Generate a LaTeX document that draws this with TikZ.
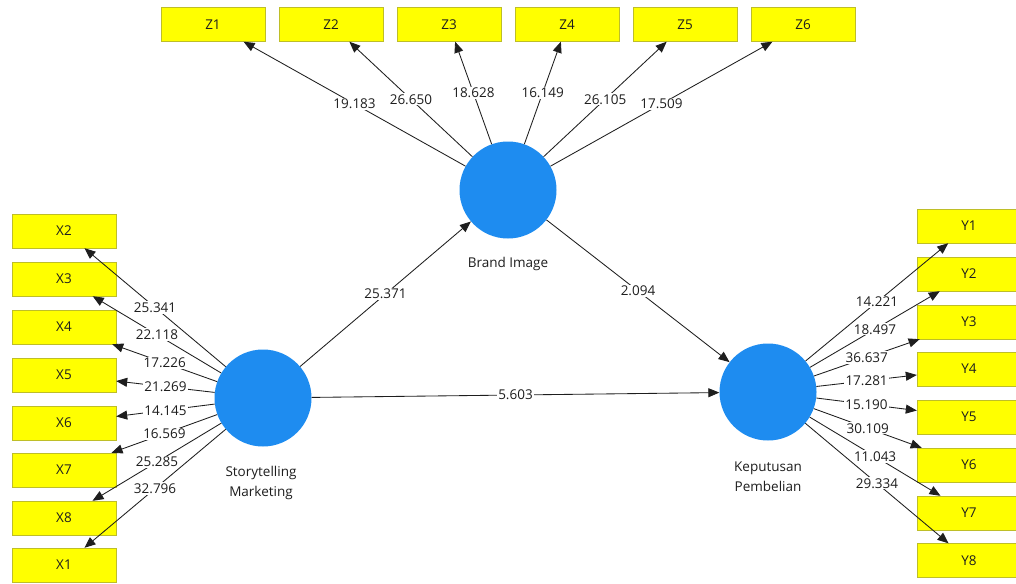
\documentclass[tikz,border=0pt]{standalone}
\usepackage{fontspec}
\setmainfont{Open Sans}
\usetikzlibrary{arrows.meta}
\definecolor{boxfill}{RGB}{255,255,0}
\definecolor{boxedge}{RGB}{190,190,40}
\definecolor{lvblue}{RGB}{30,140,240}
\definecolor{linec}{RGB}{30,30,30}
\definecolor{txt}{RGB}{30,30,30}
\begin{document}
\begin{tikzpicture}[x=1pt,y=-1pt,
  ind/.style={draw=boxedge,fill=boxfill,minimum width=104pt,minimum height=34pt,inner sep=0pt,font=\fontsize{13.5}{15}\selectfont,text=txt},
  lv/.style={circle,fill=lvblue,minimum size=97pt,inner sep=0pt},
  conn/.style={draw=linec,line width=0.85pt,-{Triangle[length=11pt,width=9pt]}},
  val/.style={fill=white,inner sep=1.2pt,font=\fontsize{13.5}{15}\selectfont,text=txt},
  lvlab/.style={align=center,font=\fontsize{13.5}{20}\selectfont,text=txt}]
\useasboundingbox (0,0) rectangle (1016,583);
\fill[white] (0,0) rectangle (1016,583);
% latent variables
\node[lv] (SM) at (263,398) {};
\node[lv] (BI) at (508,190) {};
\node[lv] (KP) at (768,392) {};
\node[lvlab] (SMl) at (261,483) {Storytelling\\Marketing};
\node[lvlab] (BIl) at (508,264) {Brand Image};
\node[lvlab] (KPl) at (768,477) {Keputusan\\Pembelian};
% Z indicators
\node[ind] (Z1) at (213,24.5) {Z1};
\node[ind] (Z2) at (331,24.5) {Z2};
\node[ind] (Z3) at (449,24.5) {Z3};
\node[ind] (Z4) at (567,24.5) {Z4};
\node[ind] (Z5) at (685,24.5) {Z5};
\node[ind] (Z6) at (803,24.5) {Z6};
% X indicators
\node[ind] (X2) at (64,231) {X2};
\node[ind] (X3) at (64,279) {X3};
\node[ind] (X4) at (64,327) {X4};
\node[ind] (X5) at (64,375) {X5};
\node[ind] (X6) at (64,423) {X6};
\node[ind] (X7) at (64,470) {X7};
\node[ind] (X8) at (64,518) {X8};
\node[ind] (X1) at (64,565) {X1};
% Y indicators
\node[ind] (Y1) at (969,226) {Y1};
\node[ind] (Y2) at (969,274) {Y2};
\node[ind] (Y3) at (969,322) {Y3};
\node[ind] (Y4) at (969,369) {Y4};
\node[ind] (Y5) at (969,417) {Y5};
\node[ind] (Y6) at (969,465) {Y6};
\node[ind] (Y7) at (969,513) {Y7};
\node[ind] (Y8) at (969,560.5) {Y8};
% structural paths
\draw[conn] (SM) -- node[val,pos=0.5] {25.371} (BI);
\draw[conn] (BI) -- node[val,pos=0.5] {2.094} (KP);
\draw[conn] (SM) -- node[val,pos=0.5] {5.603} (KP);
% Z loadings
\draw[conn] (BI) -- node[val,pos=0.5] {19.183} (Z1);
\draw[conn] (BI) -- node[val,pos=0.5] {26.650} (Z2);
\draw[conn] (BI) -- node[val,pos=0.5] {18.628} (Z3);
\draw[conn] (BI) -- node[val,pos=0.5] {16.149} (Z4);
\draw[conn] (BI) -- node[val,pos=0.5] {26.105} (Z5);
\draw[conn] (BI) -- node[val,pos=0.5] {17.509} (Z6);
% X loadings
\draw[conn] (SM) -- node[val,pos=0.5] {25.341} (X2);
\draw[conn] (SM) -- node[val,pos=0.5] {22.118} (X3);
\draw[conn] (SM) -- node[val,pos=0.5] {17.226} (X4);
\draw[conn] (SM) -- node[val,pos=0.5] {21.269} (X5);
\draw[conn] (SM) -- node[val,pos=0.5] {14.145} (X6);
\draw[conn] (SM) -- node[val,pos=0.5] {16.569} (X7);
\draw[conn] (SM) -- node[val,pos=0.5] {25.285} (X8);
\draw[conn] (SM) -- node[val,pos=0.5] {32.796} (X1);
% Y loadings
\draw[conn] (KP) -- node[val,pos=0.5] {14.221} (Y1);
\draw[conn] (KP) -- node[val,pos=0.5] {18.497} (Y2);
\draw[conn] (KP) -- node[val,pos=0.5] {36.637} (Y3);
\draw[conn] (KP) -- node[val,pos=0.5] {17.281} (Y4);
\draw[conn] (KP) -- node[val,pos=0.5] {15.190} (Y5);
\draw[conn] (KP) -- node[val,pos=0.5] {30.109} (Y6);
\draw[conn] (KP) -- node[val,pos=0.5] {11.043} (Y7);
\draw[conn] (KP) -- node[val,pos=0.5] {29.334} (Y8);
\end{tikzpicture}
\end{document}
